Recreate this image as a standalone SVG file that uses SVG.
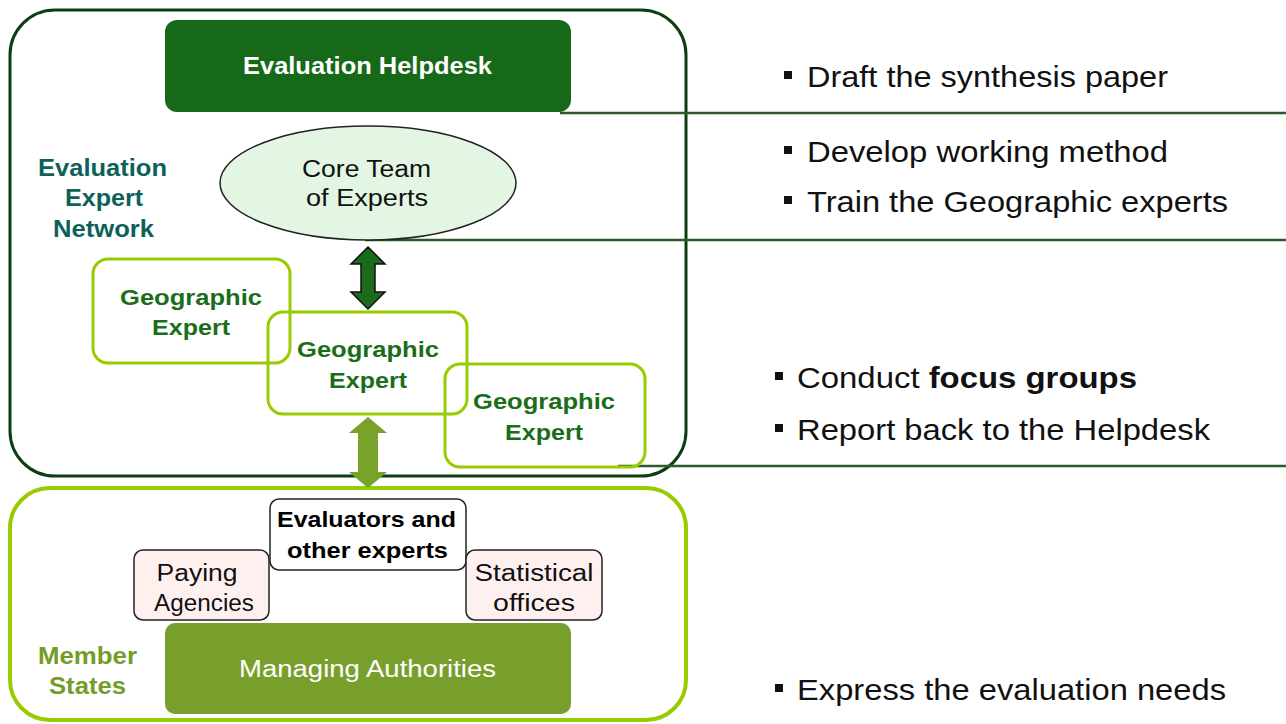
<svg xmlns="http://www.w3.org/2000/svg" width="1286" height="724" viewBox="0 0 1286 724">
<style>
text{font-family:"Liberation Sans",Arial,sans-serif}
.m{text-anchor:middle}
.b{font-weight:bold}
.geo{fill:none;stroke:#99cc00;stroke-width:3}
.gt{fill:#1a6e1a;font-size:22px;font-weight:bold;text-anchor:middle}
.rt{font-size:30px;fill:#111}
.sep{stroke:#2d5a2d;stroke-width:2.5;fill:none}
.bul{fill:#111}
.net{fill:#0e6158;font-size:23px;font-weight:bold;text-anchor:middle}
.ms{fill:#729d27;font-size:23px;font-weight:bold;text-anchor:middle}
</style>
<rect width="1286" height="724" fill="#fff"/>
<g id="network">
<rect x="10" y="10" width="676" height="466" rx="45" fill="#fff" stroke="#0f3d12" stroke-width="3"/>
<text class="net" x="102.5" y="176" textLength="129" lengthAdjust="spacingAndGlyphs">Evaluation</text>
<text class="net" x="104" y="206" textLength="78" lengthAdjust="spacingAndGlyphs">Expert</text>
<text class="net" x="103.5" y="237" textLength="101" lengthAdjust="spacingAndGlyphs">Network</text>
</g>
<g id="member-states">
<rect x="10" y="488" width="676" height="232" rx="40" fill="#fff" stroke="#99cc00" stroke-width="4"/>
<text class="ms" x="87.5" y="664" textLength="99" lengthAdjust="spacingAndGlyphs">Member</text>
<text class="ms" x="87.5" y="694" textLength="77" lengthAdjust="spacingAndGlyphs">States</text>
</g>
<g id="connectors">
<line class="sep" x1="560" y1="113" x2="1286" y2="113"/>
<line class="sep" x1="365" y1="240" x2="1286" y2="240"/>
<line class="sep" x1="618" y1="466" x2="1286" y2="466"/>
<polygon points="368,247 385,264 375,264 375,292 385,292 368,309 351,292 361,292 361,264 351,264" fill="#1b6b1b" stroke="#111" stroke-width="1.5"/>
<polygon points="368,417 387,433 378,433 378,472 387,472 368,488 349,472 358,472 358,433 349,433" fill="#79a22a"/>
</g>
<g id="helpdesk">
<rect x="165" y="20" width="406" height="92" rx="12" fill="#17691a"/>
<text class="m b" x="367.5" y="74" font-size="23" fill="#fff" textLength="249" lengthAdjust="spacingAndGlyphs">Evaluation Helpdesk</text>
</g>
<g id="core-team">
<ellipse cx="368" cy="183" rx="148" ry="57" fill="#e3f5e3" stroke="#222" stroke-width="1.5"/>
<text class="m" x="366.5" y="177" font-size="23" fill="#111" textLength="129" lengthAdjust="spacingAndGlyphs">Core Team</text>
<text class="m" x="367" y="206" font-size="23" fill="#111" textLength="122" lengthAdjust="spacingAndGlyphs">of Experts</text>
</g>
<g id="geo1">
<rect class="geo" x="93" y="259" width="197" height="104" rx="15"/>
<text class="gt" x="191" y="305" textLength="142" lengthAdjust="spacingAndGlyphs">Geographic</text>
<text class="gt" x="191" y="335" textLength="78" lengthAdjust="spacingAndGlyphs">Expert</text>
</g>
<g id="geo2">
<rect class="geo" x="268" y="312" width="199" height="102" rx="15"/>
<text class="gt" x="368" y="357" textLength="142" lengthAdjust="spacingAndGlyphs">Geographic</text>
<text class="gt" x="368" y="388" textLength="78" lengthAdjust="spacingAndGlyphs">Expert</text>
</g>
<g id="geo3">
<rect class="geo" x="445" y="364" width="200" height="103" rx="15"/>
<text class="gt" x="544" y="409" textLength="142" lengthAdjust="spacingAndGlyphs">Geographic</text>
<text class="gt" x="544" y="440" textLength="78" lengthAdjust="spacingAndGlyphs">Expert</text>
</g>
<g id="evaluators">
<rect x="270" y="499" width="196" height="71" rx="9" fill="#fff" stroke="#222" stroke-width="1.5"/>
<text class="m b" x="366.5" y="527" font-size="22" fill="#000" textLength="179" lengthAdjust="spacingAndGlyphs">Evaluators and</text>
<text class="m b" x="367.5" y="558" font-size="22" fill="#000" textLength="161" lengthAdjust="spacingAndGlyphs">other experts</text>
</g>
<g id="paying">
<rect x="134" y="550" width="135" height="70" rx="9" fill="#fff0f0" stroke="#222" stroke-width="1.5"/>
<text class="m" x="197" y="581" font-size="23" fill="#111" textLength="81" lengthAdjust="spacingAndGlyphs">Paying</text>
<text class="m" x="204" y="611" font-size="23" fill="#111" textLength="100" lengthAdjust="spacingAndGlyphs">Agencies</text>
</g>
<g id="statistical">
<rect x="466" y="550" width="136" height="70" rx="9" fill="#fff0f0" stroke="#222" stroke-width="1.5"/>
<text class="m" x="534" y="581" font-size="23" fill="#111" textLength="119" lengthAdjust="spacingAndGlyphs">Statistical</text>
<text class="m" x="534" y="611" font-size="23" fill="#111" textLength="82" lengthAdjust="spacingAndGlyphs">offices</text>
</g>
<g id="managing">
<rect x="165" y="623" width="406" height="91" rx="10" fill="#789f2b"/>
<text x="239" y="677" font-size="23" fill="#fff" textLength="257" lengthAdjust="spacingAndGlyphs">Managing Authorities</text>
</g>
<g id="tasks">
<rect class="bul" x="784" y="71" width="8" height="8"/>
<text class="rt" x="807" y="87" textLength="361" lengthAdjust="spacingAndGlyphs">Draft the synthesis paper</text>
<rect class="bul" x="784" y="146" width="8" height="8"/>
<text class="rt" x="807" y="162" textLength="361" lengthAdjust="spacingAndGlyphs">Develop working method</text>
<rect class="bul" x="784" y="196" width="8" height="8"/>
<text class="rt" x="807" y="212" textLength="421" lengthAdjust="spacingAndGlyphs">Train the Geographic experts</text>
<rect class="bul" x="775" y="372" width="8" height="8"/>
<text class="rt" x="797" y="388" textLength="340" lengthAdjust="spacingAndGlyphs">Conduct <tspan font-weight="bold">focus groups</tspan></text>
<rect class="bul" x="775" y="424" width="8" height="8"/>
<text class="rt" x="797" y="440" textLength="413" lengthAdjust="spacingAndGlyphs">Report back to the Helpdesk</text>
<rect class="bul" x="775" y="684" width="8" height="8"/>
<text class="rt" x="797" y="700" textLength="429" lengthAdjust="spacingAndGlyphs">Express the evaluation needs</text>
</g>
</svg>
